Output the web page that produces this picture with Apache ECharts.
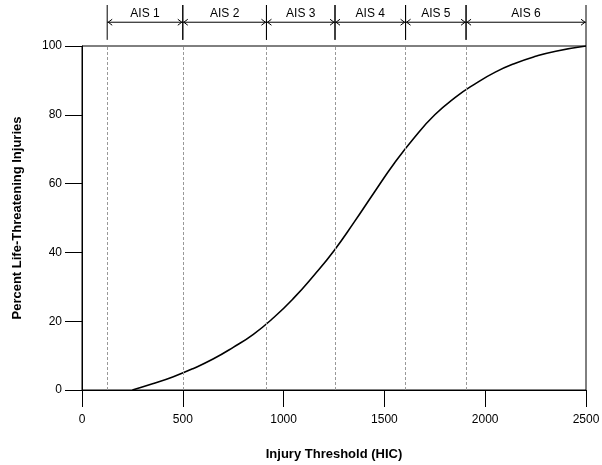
<!DOCTYPE html>
<html>
<head>
<meta charset="utf-8">
<script src="https://cdn.jsdelivr.net/npm/echarts@6/dist/echarts.min.js"></script>
<style>
  html, body { margin: 0; padding: 0; background: #fff; }
  #chart { width: 602px; height: 465px; }
</style>
</head>
<body>
<div id="chart"></div>
<script>
// injury curve
const hic = [250, 350, 450, 550, 650, 750, 850, 950, 1050, 1150, 1250, 1350, 1450, 1550, 1650, 1750, 1850, 1950, 2050, 2150, 2250, 2350, 2500];
const pct = [0, 1.8, 3.8, 6.2, 9, 12.4, 16.2, 21, 26.7, 33.3, 40.5, 48.8, 57.5, 66, 73.5, 80, 85, 89, 92.4, 95, 97, 98.5, 100];

// AIS band boundaries (HIC)
const aisBounds = [125, 500, 915, 1255, 1605, 1905, 2500];
const aisLabels = ["AIS 1", "AIS 2", "AIS 3", "AIS 4", "AIS 5", "AIS 6"];

const yTicks = [0, 20, 40, 60, 80, 100];

const chart = echarts.init(document.getElementById("chart"));

const curve = hic.map((h, i) => [h, pct[i]]);
const bands = aisLabels.map((l, i) => [aisBounds[i], aisBounds[i + 1]]);

const font = "Liberation Sans, Arial, sans-serif";

function renderBand(params, api) {
  const x0 = api.value(0);
  const x1 = api.value(1);
  const last = params.dataIndex === bands.length - 1;
  const top0 = api.coord([x0, 1]);
  const bot0 = api.coord([x0, 0.15]);
  const top1 = api.coord([x1, 1]);
  const bot1 = api.coord([x1, last ? 0 : 0.15]);
  const a0 = api.coord([x0, 0.58]);
  const a1 = api.coord([x1, 0.58]);
  const t = api.coord([(x0 + x1) / 2, 0.8]);
  const st = { stroke: "#000", lineWidth: 1, fill: null };
  return {
    type: "group",
    children: [
      { type: "line", shape: { x1: top0[0], y1: top0[1], x2: bot0[0], y2: bot0[1] }, style: st },
      { type: "line", shape: { x1: top1[0], y1: top1[1], x2: bot1[0], y2: bot1[1] }, style: st },
      { type: "line", shape: { x1: a0[0], y1: a0[1], x2: a1[0], y2: a1[1] }, style: st },
      { type: "polyline", shape: { points: [[a0[0] + 5, a0[1] - 3], [a0[0] + 1, a0[1]], [a0[0] + 5, a0[1] + 3]] }, style: st },
      { type: "polyline", shape: { points: [[a1[0] - 5, a1[1] - 3], [a1[0] - 1, a1[1]], [a1[0] - 5, a1[1] + 3]] }, style: st },
      {
        type: "text",
        style: {
          x: t[0], y: t[1], text: aisLabels[params.dataIndex],
          fill: "#000", font: "12px " + font,
          align: "center", verticalAlign: "middle"
        }
      }
    ]
  };
}

const option = {
  animation: false,
  backgroundColor: "#fff",
  grid: [
    { left: 82, right: 16, top: 46, bottom: 75, show: true, borderColor: "#000", borderWidth: 1, containLabel: false, outerBoundsMode: "none" },
    { left: 82, right: 16, top: 5, height: 41, containLabel: false, outerBoundsMode: "none" }
  ],
  xAxis: [
    {
      gridIndex: 0,
      type: "value",
      min: 0,
      max: 2500,
      interval: 500,
      name: "Injury Threshold (HIC)",
      nameLocation: "middle",
      nameGap: 58,
      nameTextStyle: { fontFamily: font, fontSize: 13, fontWeight: "bold", color: "#000" },
      axisLine: { lineStyle: { color: "#000", width: 1 } },
      axisTick: { show: true, length: 17, lineStyle: { color: "#000" } },
      axisLabel: { margin: 24, fontFamily: font, fontSize: 12, color: "#000", formatter: (v) => String(v) },
      splitLine: { show: false }
    },
    {
      gridIndex: 1,
      type: "value",
      min: 0,
      max: 2500,
      show: false
    }
  ],
  yAxis: [
    {
      gridIndex: 0,
      type: "value",
      min: 0,
      max: 100,
      interval: 20,
      name: "Percent Life-Threatening Injuries",
      nameLocation: "middle",
      nameGap: 58,
      nameRotate: 90,
      nameTextStyle: { fontFamily: font, fontSize: 13, fontWeight: "bold", color: "#000" },
      axisLine: { show: true, lineStyle: { color: "#000", width: 1 } },
      axisTick: { show: true, length: 17, lineStyle: { color: "#000" } },
      axisLabel: {
        margin: 20, fontFamily: font, fontSize: 12, color: "#000",
        formatter: (v) => (yTicks.includes(v) ? String(v) : "")
      },
      splitLine: { show: false }
    },
    {
      gridIndex: 1,
      type: "value",
      min: 0,
      max: 1,
      show: false
    }
  ],
  series: [
    {
      type: "line",
      xAxisIndex: 0,
      yAxisIndex: 0,
      data: curve,
      smooth: 0.5,
      symbol: "none",
      lineStyle: { color: "#000", width: 1.6 },
      markLine: {
        silent: true,
        symbol: "none",
        label: { show: false },
        lineStyle: { color: "#999", type: [3, 2], width: 1 },
        data: aisBounds.slice(0, -1).map((v) => ({ xAxis: v }))
      },
      z: 3
    },
    {
      type: "custom",
      xAxisIndex: 1,
      yAxisIndex: 1,
      clip: false,
      data: bands,
      encode: { x: [0, 1] },
      renderItem: renderBand
    }
  ]
};

chart.setOption(option);
</script>
</body>
</html>
